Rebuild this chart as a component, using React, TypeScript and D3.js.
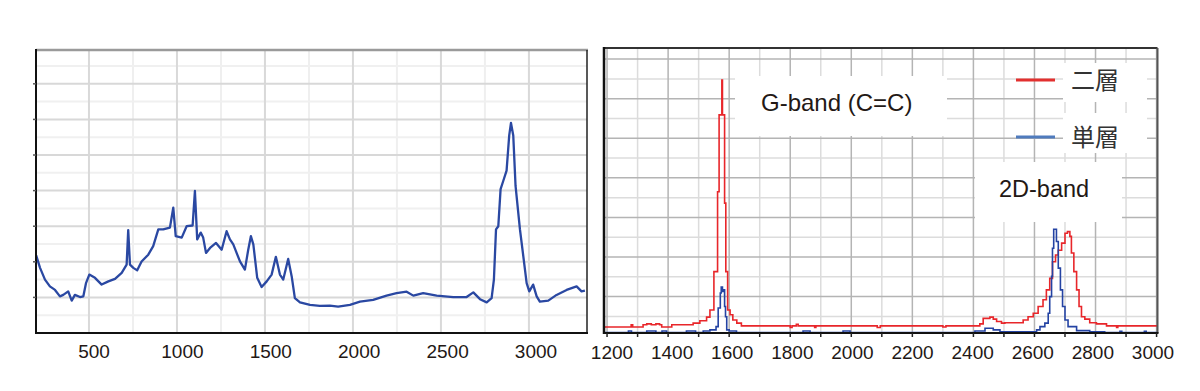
import { useEffect, useRef } from 'react';
import * as d3 from 'd3';

// left spectrum: [wavenumber, intensity]
const leftSpectrum: [number, number][] = [
  [200, 2.18], [222, 1.83], [250, 1.5], [278, 1.31], [307, 1.21], [335, 1.03], [354, 1.07],
  [382, 1.17], [402, 0.91], [420, 1.07], [449, 1.01], [468, 1.03], [483, 1.4], [502, 1.64],
  [534, 1.55], [572, 1.36], [610, 1.45], [648, 1.52], [686, 1.69], [714, 1.92], [723, 2.89],
  [733, 1.92], [752, 1.83], [774, 1.76], [799, 2.01], [837, 2.2], [865, 2.44], [894, 2.91],
  [922, 2.91], [960, 2.96], [979, 3.52], [993, 2.72], [1027, 2.68], [1055, 3.0], [1089, 3.02],
  [1102, 3.99], [1115, 2.63], [1135, 2.82], [1149, 2.68], [1165, 2.25], [1188, 2.39],
  [1222, 2.53], [1254, 2.34], [1282, 2.86], [1301, 2.63], [1320, 2.49], [1335, 2.3],
  [1358, 2.01], [1386, 1.78], [1405, 2.34], [1420, 2.72], [1434, 2.49], [1456, 1.55],
  [1481, 1.29], [1510, 1.45], [1538, 1.64], [1562, 2.14], [1585, 1.64], [1604, 1.5],
  [1632, 2.08], [1652, 1.59], [1670, 0.98], [1699, 0.86], [1756, 0.79], [1812, 0.76],
  [1869, 0.77], [1916, 0.74], [1983, 0.79], [2040, 0.88], [2115, 0.93], [2191, 1.05],
  [2248, 1.12], [2305, 1.16], [2343, 1.05], [2399, 1.12], [2476, 1.05], [2570, 1.01],
  [2646, 1.01], [2684, 1.14], [2722, 0.95], [2760, 0.86], [2788, 0.98], [2801, 1.5],
  [2813, 2.91], [2826, 3.0], [2839, 4.04], [2854, 4.27], [2873, 4.56], [2888, 5.55],
  [2898, 5.9], [2911, 5.55], [2924, 4.13], [2949, 2.91], [2968, 2.16], [2987, 1.4],
  [3002, 1.17], [3024, 1.36], [3044, 1.03], [3062, 0.88], [3110, 0.91], [3157, 1.07],
  [3214, 1.21], [3271, 1.31], [3299, 1.17], [3318, 1.19],
];
const leftTicks = [500, 1000, 1500, 2000, 2500, 3000];

// right spectra (Raman), step data: [wavenumber, intensity]
const bilayer: [number, number][] = [
  [1190, 0.23], [1279, 0.29], [1284, 0.23], [1318, 0.29], [1330, 0.31], [1345, 0.29],
  [1360, 0.31], [1372, 0.29], [1379, 0.23], [1412, 0.29], [1482, 0.33], [1504, 0.39],
  [1526, 0.48], [1537, 0.66], [1550, 1.63], [1562, 3.65], [1567, 5.59], [1576, 6.47],
  [1578, 5.59], [1585, 3.36], [1589, 1.63], [1595, 0.66], [1603, 0.54], [1612, 0.41],
  [1625, 0.33], [1640, 0.26], [1800, 0.22], [1806, 0.26], [1820, 0.3], [1826, 0.26],
  [1880, 0.22], [1884, 0.26], [2085, 0.22], [2095, 0.26], [2300, 0.23], [2310, 0.26],
  [2421, 0.31], [2432, 0.45], [2454, 0.48], [2465, 0.43], [2476, 0.37], [2492, 0.33],
  [2503, 0.34], [2563, 0.41], [2579, 0.49], [2596, 0.58], [2612, 0.75], [2628, 0.92],
  [2639, 1.17], [2650, 1.46], [2659, 1.88], [2669, 2.05], [2678, 2.17], [2689, 2.35],
  [2700, 2.6], [2708, 2.64], [2716, 2.52], [2721, 2.1], [2729, 1.63], [2738, 1.17],
  [2746, 0.75], [2754, 0.49], [2765, 0.43], [2781, 0.34], [2803, 0.31], [2836, 0.26],
  [2869, 0.22], [2873, 0.26], [3003, 0.26],
];
const monolayer: [number, number][] = [
  [1190, 0.09], [1270, 0.13], [1280, 0.09], [1330, 0.13], [1360, 0.09], [1380, 0.13],
  [1395, 0.09], [1460, 0.13], [1490, 0.09], [1515, 0.13], [1537, 0.16], [1557, 0.24],
  [1564, 0.71], [1571, 1.09], [1574, 1.24], [1578, 1.13], [1582, 1.17], [1585, 0.75],
  [1588, 0.49], [1592, 0.16], [1600, 0.13], [1624, 0.09], [1842, 0.13], [1865, 0.09],
  [1973, 0.13], [1996, 0.09], [2405, 0.13], [2438, 0.2], [2465, 0.16], [2487, 0.11],
  [2596, 0.11], [2607, 0.16], [2618, 0.24], [2634, 0.33], [2645, 0.58], [2650, 1.0],
  [2656, 1.51], [2659, 2.22], [2663, 2.7], [2669, 2.7], [2672, 2.39], [2678, 1.72],
  [2685, 1.17], [2692, 0.75], [2700, 0.41], [2710, 0.24], [2738, 0.14], [2781, 0.11],
  [2830, 0.09], [2880, 0.12], [2886, 0.09], [2960, 0.12], [2966, 0.09], [3003, 0.09],
];
const rightTicks = d3.range(1200, 3001, 200);
const rightMinorTicks = d3.range(1200, 3001, 100);

const series = [
  { name: '二層', data: bilayer, color: '#e8262a', legendColor: '#e2302f' },
  { name: '単層', data: monolayer, color: '#2443a3', legendColor: '#4f7bbd' },
];

const FONT = '"Liberation Sans", Arial, sans-serif';
const TEXT = '#231815';

export default function App() {
  const ref = useRef<SVGSVGElement>(null);

  useEffect(() => {
    const svg = d3.select(ref.current);
    svg.selectAll('*').remove();

    const width = 1200;
    const height = 391;
    svg.attr('width', width).attr('height', height);

    const defs = svg.append('defs');

    // ---------- left panel ----------
    const L = { x0: 36, x1: 587, y0: 50, y1: 333 };
    const xL = d3.scaleLinear().domain([199, 3330]).range([L.x0, L.x1]);
    const xLLabel = d3.scaleLinear().domain([500, 3000]).range([94, 536]);
    const yL = d3.scaleLinear().domain([0, 7.95]).range([L.y1, L.y0]);

    const gl = svg.append('g');
    gl.append('rect').attr('x', L.x0).attr('y', L.y0).attr('width', L.x1 - L.x0)
      .attr('height', L.y1 - L.y0).attr('fill', '#fff');

    // minor grid
    gl.selectAll('.vminor').data(d3.range(750, 2751, 500)).join('line')
      .attr('x1', (d) => xL(d)).attr('x2', (d) => xL(d))
      .attr('y1', L.y0).attr('y2', L.y1)
      .attr('stroke', '#efefef').attr('stroke-width', 2);
    gl.selectAll('.hminor').data(d3.range(0.5, 7.6, 1)).join('line')
      .attr('x1', L.x0).attr('x2', L.x1)
      .attr('y1', (d) => yL(d)).attr('y2', (d) => yL(d))
      .attr('stroke', '#f0f0f0').attr('stroke-width', 2);
    // major grid
    gl.selectAll('.vmajor').data(leftTicks).join('line')
      .attr('x1', (d) => xL(d)).attr('x2', (d) => xL(d))
      .attr('y1', L.y0).attr('y2', L.y1)
      .attr('stroke', '#d9d9d9').attr('stroke-width', 2);
    gl.selectAll('.hmajor').data(d3.range(1, 8)).join('line')
      .attr('x1', L.x0).attr('x2', L.x1)
      .attr('y1', (d) => yL(d)).attr('y2', (d) => yL(d))
      .attr('stroke', '#d8d8d8').attr('stroke-width', 2);

    defs.append('clipPath').attr('id', 'clipL').append('rect')
      .attr('x', L.x0).attr('y', L.y0).attr('width', L.x1 - L.x0).attr('height', L.y1 - L.y0);

    gl.append('path')
      .datum(leftSpectrum)
      .attr('clip-path', 'url(#clipL)')
      .attr('fill', 'none')
      .attr('stroke', '#2a48a2')
      .attr('stroke-width', 2.3)
      .attr('stroke-linejoin', 'round')
      .attr('d', d3.line<[number, number]>().x((d) => xL(d[0])).y((d) => yL(d[1])));

    // frame
    gl.append('line').attr('x1', L.x0).attr('x2', L.x1 + 1).attr('y1', L.y0).attr('y2', L.y0)
      .attr('stroke', '#9a9a9a').attr('stroke-width', 2.5);
    gl.append('line').attr('x1', L.x1).attr('x2', L.x1).attr('y1', L.y0).attr('y2', L.y1)
      .attr('stroke', '#222').attr('stroke-width', 1.5);
    gl.append('line').attr('x1', L.x0).attr('x2', L.x1 + 1).attr('y1', L.y1).attr('y2', L.y1)
      .attr('stroke', '#111').attr('stroke-width', 2);
    gl.append('line').attr('x1', L.x0).attr('x2', L.x0).attr('y1', L.y0 - 1).attr('y2', L.y1 + 1)
      .attr('stroke', '#111').attr('stroke-width', 2);
    gl.selectAll('.ytick').data(d3.range(1, 8)).join('line')
      .attr('x1', L.x0 - 3).attr('x2', L.x0)
      .attr('y1', (d) => yL(d)).attr('y2', (d) => yL(d))
      .attr('stroke', '#555').attr('stroke-width', 1.5);

    gl.selectAll('.xlab').data(leftTicks).join('text')
      .attr('x', (d) => xLLabel(d)).attr('y', 358)
      .attr('text-anchor', 'middle')
      .attr('font-family', FONT).attr('font-size', 19).attr('fill', TEXT)
      .text((d) => d);

    // ---------- right panel ----------
    const R = { x0: 604, x1: 1157.5, y0: 48, y1: 333 };
    const xR = d3.scaleLinear().domain([1190, 3003]).range([R.x0, R.x1]);
    const xRLabel = d3.scaleLinear().domain([1200, 3000]).range([612, 1153]);
    const yR = d3.scaleLinear().domain([0.08, 7.28]).range([R.y1, R.y0]);

    const gr = svg.append('g');
    gr.append('rect').attr('x', R.x0).attr('y', R.y0).attr('width', R.x1 - R.x0)
      .attr('height', R.y1 - R.y0).attr('fill', '#fff');

    gr.selectAll('.vminor').data(rightMinorTicks.filter((d) => d % 200 !== 0)).join('line')
      .attr('x1', (d) => xR(d)).attr('x2', (d) => xR(d))
      .attr('y1', R.y0).attr('y2', R.y1)
      .attr('stroke', '#dcdcdc').attr('stroke-width', 1.5);
    gr.selectAll('.hminor').data(d3.range(0.5, 7, 1)).join('line')
      .attr('x1', R.x0).attr('x2', R.x1)
      .attr('y1', (d) => yR(d)).attr('y2', (d) => yR(d))
      .attr('stroke', '#dcdcdc').attr('stroke-width', 1.5);
    gr.selectAll('.vmajor').data(rightTicks).join('line')
      .attr('x1', (d) => xR(d)).attr('x2', (d) => xR(d))
      .attr('y1', R.y0).attr('y2', R.y1)
      .attr('stroke', '#b4b4b4').attr('stroke-width', 1.5);
    gr.selectAll('.hmajor').data(d3.range(1, 8)).join('line')
      .attr('x1', R.x0).attr('x2', R.x1)
      .attr('y1', (d) => yR(d)).attr('y2', (d) => yR(d))
      .attr('stroke', '#b4b4b4').attr('stroke-width', 1.5);

    // white label boxes over grid
    const boxes = [
      { x: 735, y: 76, w: 212, h: 60 },
      { x: 1063, y: 63, w: 84, h: 39 },
      { x: 1063, y: 113, w: 84, h: 40 },
      { x: 975, y: 162, w: 147, h: 60 },
    ];
    gr.selectAll('.box').data(boxes).join('rect')
      .attr('x', (d) => d.x).attr('y', (d) => d.y).attr('width', (d) => d.w).attr('height', (d) => d.h)
      .attr('fill', '#fff');

    defs.append('clipPath').attr('id', 'clipR').append('rect')
      .attr('x', R.x0).attr('y', R.y0).attr('width', R.x1 - R.x0).attr('height', R.y1 - R.y0);

    const stepLine = d3.line<[number, number]>()
      .x((d) => xR(d[0])).y((d) => yR(d[1])).curve(d3.curveStepAfter);

    gr.selectAll('.series').data(series).join('path')
      .attr('clip-path', 'url(#clipR)')
      .attr('fill', 'none')
      .attr('stroke', (d) => d.color)
      .attr('stroke-width', 1.6)
      .attr('d', (d) => stepLine(d.data));

    // frame
    gr.append('line').attr('x1', R.x0).attr('x2', R.x1).attr('y1', R.y0).attr('y2', R.y0)
      .attr('stroke', '#333').attr('stroke-width', 2);
    gr.append('line').attr('x1', R.x1).attr('x2', R.x1).attr('y1', R.y0).attr('y2', R.y1)
      .attr('stroke', '#555').attr('stroke-width', 2);
    gr.append('line').attr('x1', R.x0).attr('x2', R.x1 + 1).attr('y1', R.y1).attr('y2', R.y1)
      .attr('stroke', '#111').attr('stroke-width', 2);
    gr.append('line').attr('x1', R.x0).attr('x2', R.x0).attr('y1', R.y0 - 1).attr('y2', R.y1 + 1)
      .attr('stroke', '#111').attr('stroke-width', 2.5);
    gr.selectAll('.xtick').data(rightMinorTicks).join('line')
      .attr('x1', (d) => xR(d)).attr('x2', (d) => xR(d))
      .attr('y1', R.y1).attr('y2', R.y1 + 4)
      .attr('stroke', '#222').attr('stroke-width', 1.5);

    gr.selectAll('.xlab').data(rightTicks).join('text')
      .attr('x', (d) => xRLabel(d)).attr('y', 358.5)
      .attr('text-anchor', 'middle')
      .attr('font-family', FONT).attr('font-size', 19).attr('fill', TEXT)
      .text((d) => d);

    // annotations
    gr.append('text').attr('x', 761).attr('y', 111)
      .attr('font-family', FONT).attr('font-size', 24).attr('fill', TEXT)
      .text('G-band (C=C)');
    gr.append('text').attr('x', 999).attr('y', 196.5)
      .attr('font-family', FONT).attr('font-size', 23.5).attr('fill', TEXT)
      .text('2D-band');

    // legend
    const legend = gr.selectAll('.legend').data(series).join('g')
      .attr('transform', (_, i) => `translate(1016,${80 + i * 57})`);
    legend.append('line').attr('x1', 0).attr('x2', 39).attr('y1', 0).attr('y2', 0)
      .attr('stroke', (d) => d.legendColor).attr('stroke-width', 3);
    legend.append('text').attr('x', 55).attr('y', 0).attr('dy', '0.36em')
      .attr('font-family', '"Noto Sans CJK JP", sans-serif').attr('font-size', 24).attr('fill', '#333')
      .text((d) => d.name);
  }, []);

  return <svg ref={ref} style={{ position: 'absolute', left: 0, top: 0 }}></svg>;
}
